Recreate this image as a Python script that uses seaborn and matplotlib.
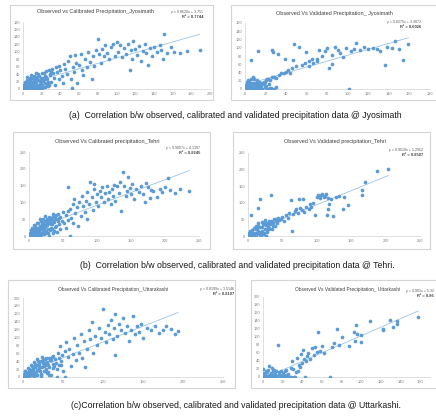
import matplotlib
matplotlib.use('Agg')
import matplotlib.pyplot as plt
import seaborn as sns
from matplotlib.patches import Rectangle

sns.set_style('white')
plt.rcParams['font.family'] = ['Liberation Sans', 'DejaVu Sans']

W, H = 436, 417
BLUE = '#5b9bd5'

# ---- (a) Jyosimath, calibration ----
obs_jyo_cal = [0, 0, 1, 1, 2, 2, 3, 3, 4, 4, 5, 5, 6, 6, 7, 7, 8, 8, 9, 9, 10, 10, 11, 11, 12, 12, 13, 14, 14, 15,
               15, 16, 17, 18, 18, 19, 20, 20, 21, 22, 23, 24, 25, 26, 27, 28, 29, 30,
               2, 5, 8, 11, 14, 17, 20, 23, 26, 29, 1, 4, 7, 10, 13, 16, 19, 22, 25, 28,
               3, 6, 9, 12, 15, 18, 21, 24, 27, 30, 0, 2, 4, 6, 8, 10, 12, 14, 16, 18,
               31, 32, 33, 34, 35, 36, 38, 39, 40, 42, 43, 44, 45, 47, 48, 50, 51, 52, 53, 55, 56, 57, 58, 60,
               62, 63, 64, 66, 68, 70, 72, 74, 75, 76, 78, 80, 81, 83, 85, 87, 88, 90, 92, 94, 96, 98, 100,
               102, 104, 106, 108, 110, 112, 114, 115, 117, 118, 120, 122, 124, 126, 128, 130, 132, 134, 136,
               138, 140, 143, 146, 148, 150, 151, 154, 158, 162, 168, 175, 189]
sim_jyo_cal = [0, 3, 1, 6, 2, 10, 0, 5, 2, 14, 1, 8, 3, 19, 0, 11, 5, 24, 2, 15, 6, 30, 1, 20, 9, 36, 3, 18, 42, 11,
               4, 25, 7, 14, 2, 30, 10, 44, 22, 5, 34, 16, 48, 27, 8, 52, 38, 20,
               20, 4, 30, 13, 6, 35, 2, 28, 12, 40, 12, 25, 17, 3, 29, 7, 20, 44, 33, 10,
               15, 9, 38, 24, 32, 1, 30, 6, 20, 45, 8, 16, 33, 12, 0, 20, 16, 26, 40, 22,
               55, 42, 30, 12, 58, 45, 26, 62, 50, 35, 16, 68, 55, 40, 75, 88, 28, 3, 60, 45, 92, 70, 15, 65,
               95, 50, 38, 80, 58, 100, 72, 28, 88, 62, 105, 133, 95, 70, 108, 88, 118, 98, 80, 112, 122, 90, 125,
               100, 118, 85, 110, 95, 122, 50, 105, 80, 128, 108, 92, 115, 75, 102, 120, 96, 65, 110,
               88, 112, 100, 118, 104, 80, 147, 96, 112, 100, 98, 102, 106]

# ---- (a) Jyosimath, validation ----
obs_jyo_val = [0, 0, 1, 1, 2, 2, 3, 3, 4, 4, 5, 5, 6, 6, 7, 7, 8, 8, 9, 9, 10, 11, 12, 12, 14, 16, 17, 19, 20, 21,
               23, 24, 26, 28, 30,
               1, 2, 3, 4, 5, 6, 7, 8, 9, 10, 11, 12, 13, 14, 15, 16, 17, 18, 19, 20, 22, 25, 28,
               15, 18, 20, 22, 24, 26, 28, 30, 33, 35, 38, 40, 42, 44, 46, 50, 55, 58, 62, 66, 70, 75, 85,
               6, 13, 26, 27, 32, 39, 47, 48, 53, 59, 62, 65, 70, 72, 78, 80, 82, 85, 88, 90, 92, 95, 98,
               101, 103, 106, 108, 112, 116, 120, 125, 128, 131, 136, 138, 143, 146, 150, 154, 159]
sim_jyo_val = [0, 2, 0, 5, 1, 12, 0, 3, 8, 20, 0, 2, 10, 25, 1, 5, 15, 28, 0, 3, 12, 2, 8, 22, 5, 0, 14, 18, 8, 25,
               12, 2, 0, 28, 5,
               10, 18, 22, 6, 15, 0, 12, 3, 24, 6, 15, 0, 10, 18, 2, 8, 0, 12, 5, 2, 0, 3, 0,
               15, 18, 22, 25, 22, 28, 30, 26, 35, 38, 40, 42, 45, 38, 50, 55, 58, 62, 68, 64, 72, 80, 82,
               70, 93, 94, 90, 85, 72, 70, 108, 102, 89, 55, 72, 68, 95, 92, 100, 52, 60, 102, 95, 88, 78, 100,
               0, 92, 98, 112, 95, 103, 98, 100, 96, 92, 58, 102, 100, 117, 96, 70, 108]

# ---- (b) Tehri, calibration ----
obs_teh_cal = [0, 1, 2, 3, 4, 5, 6, 7, 8, 9, 10, 11, 12, 13, 14, 15, 16, 17, 18, 19, 20, 21, 22, 23, 24, 25, 26, 27,
               28, 29, 30, 31, 32, 33, 34, 35, 36, 37, 38, 40, 42, 44, 45, 46, 48, 50, 52, 54, 55, 57, 58, 58,
               60, 60, 62, 64,
               1, 3, 5, 7, 9, 11, 13, 15, 17, 19, 21, 23, 25, 27, 29, 31, 33, 35, 37, 39,
               2, 4, 6, 8, 10, 12, 14, 16, 18, 20, 22, 24, 26, 28, 30, 32, 34, 36, 38, 40, 41, 43, 44,
               65, 66, 68, 70, 72, 74, 76, 78, 80, 82, 84, 85, 86, 88, 90, 92, 94, 95, 96, 98, 100, 102, 104,
               106, 108, 110, 112, 114, 116, 118, 120, 122, 124, 125, 127, 130, 132, 134, 136, 138, 140, 142,
               144, 145, 148, 150, 152, 155, 158, 162, 165, 168, 170, 172, 175, 178, 180, 183, 188, 192, 196,
               200, 204, 208, 215, 222, 236]
sim_teh_cal = [0, 2, 5, 1, 8, 3, 12, 2, 15, 6, 20, 4, 10, 25, 2, 18, 30, 8, 22, 35, 12, 40, 5, 28, 45, 15, 33, 52,
               20, 38, 0, 48, 25, 55, 35, 10, 60, 42, 28, 50, 65, 35, 20, 58, 45, 70, 38, 62, 25, 75, 48, 146,
               0, 80, 55, 95,
               10, 18, 0, 22, 30, 14, 40, 6, 45, 28, 50, 34, 8, 42, 58, 18, 36, 48, 15, 62,
               4, 25, 6, 34, 12, 38, 16, 50, 4, 28, 18, 60, 40, 10, 52, 38, 22, 65, 55, 30, 12, 45, 55,
               40, 110, 68, 85, 30, 100, 60, 120, 90, 72, 105, 130, 50, 95, 160, 115, 78, 155, 140, 100, 125, 88, 135,
               115, 145, 100, 128, 150, 110, 132, 95, 140, 118, 152, 105, 148, 128, 160, 75, 189, 150, 120,
               135, 175, 142, 125, 155, 110, 140, 130, 148, 125, 100, 158, 145, 112, 138, 135, 115, 140, 132,
               145, 173, 138, 128, 140, 133]

# ---- (b) Tehri, validation ----
obs_teh_val = [0, 1, 2, 3, 4, 4, 5, 6, 7, 8, 9, 10, 11, 12, 13, 14, 15, 16, 17, 18, 19, 20, 21, 22, 23, 24, 25, 26,
               27, 28, 29, 30, 32, 34, 35, 36, 38, 40, 41, 42, 44, 45,
               1, 3, 5, 7, 9, 11, 13, 15, 17, 19, 21, 23, 25, 27, 29, 31, 33, 35, 37, 39, 2, 6, 10, 14, 18, 22, 26, 30,
               48, 50, 52, 55, 58, 60, 62, 64, 65, 68, 70, 72, 74, 75, 78, 80, 82, 85, 88, 90, 92, 95, 98, 100,
               102, 104, 106, 108, 110, 112, 114, 115, 116, 117, 118, 120, 124, 128, 132, 138, 140, 145, 165,
               166, 170, 187, 204]
sim_teh_val = [0, 3, 8, 1, 12, 63, 2, 18, 5, 25, 0, 10, 30, 4, 20, 38, 84, 8, 112, 28, 2, 42, 15, 35, 5, 48, 22, 32,
               12, 40, 28, 45, 35, 124, 42, 30, 50, 45, 52, 38, 55, 48,
               6, 15, 0, 10, 4, 22, 8, 30, 2, 12, 28, 8, 40, 18, 35, 25, 45, 20, 38, 30, 0, 4, 2, 14, 6, 10, 0, 22,
               50, 58, 45, 62, 55, 70, 108, 15, 65, 75, 80, 68, 110, 85, 78, 112, 72, 88, 80, 95, 88, 100, 62, 118,
               122, 114, 125, 128, 118, 120, 126, 62, 80, 115, 95, 110, 61, 118, 120, 80, 118, 92, 139,
               124, 164, 195, 201]

# ---- (c) Uttarkashi, calibration ----
obs_utt_cal = [0, 1, 2, 3, 4, 5, 6, 7, 8, 9, 10, 11, 12, 13, 14, 15, 16, 17, 18, 19, 20, 21, 22, 23, 24, 25, 26, 27,
               28, 29, 30, 31, 32, 33, 34, 35, 36, 37, 38, 40, 42, 44, 45, 46, 48, 50, 52, 53, 54, 56, 58, 60,
               62, 64, 66, 68, 70, 72, 74,
               1, 3, 5, 7, 9, 11, 13, 15, 17, 19, 21, 23, 25, 27, 29, 31, 33, 35, 37, 39,
               2, 4, 6, 8, 10, 12, 14, 16, 18, 20, 22, 24, 26, 28, 30, 41, 43, 45, 47, 49,
               76, 78, 80, 82, 84, 86, 88, 90, 92, 95, 98, 100, 102, 104, 106, 108, 110, 112, 114, 115, 115,
               118, 120, 122, 125, 128, 130, 132, 135, 138, 140, 142, 145, 148, 150, 155, 160, 165, 170, 175,
               179, 185, 190, 194]
sim_utt_cal = [0, 3, 1, 6, 2, 10, 4, 14, 1, 8, 18, 5, 22, 10, 2, 26, 12, 30, 6, 18, 34, 14, 40, 8, 25, 44, 16, 30,
               46, 20, 38, 12, 48, 26, 42, 5, 50, 32, 22, 45, 0, 62, 30, 78, 40, 15, 65, 0, 88, 50, 70, 28,
               58, 100, 42, 80, 62, 110, 48,
               8, 15, 3, 20, 12, 28, 5, 34, 18, 40, 25, 2, 36, 14, 48, 30, 6, 44, 52, 28,
               14, 0, 22, 10, 30, 18, 38, 4, 45, 22, 8, 50, 28, 35, 10, 35, 20, 48, 30, 55,
               90, 25, 70, 118, 95, 139, 60, 105, 82, 125, 100, 172, 115, 88, 132, 110, 145, 95, 125, 55, 159,
               105, 135, 118, 150, 112, 130, 92, 120, 155, 108, 128, 115, 135, 100, 125, 118, 130, 112, 120,
               128, 122, 110, 117]

# ---- (c) Uttarkashi, validation ----
obs_utt_val = [0, 0, 1, 2, 3, 4, 5, 6, 7, 8, 9, 10, 11, 12, 13, 14, 15, 16, 17, 18, 19, 20, 21, 22, 23, 24, 25, 26,
               28, 30, 31, 32, 34,
               2, 4, 6, 8, 10, 12, 14, 16, 18, 20, 22, 24, 27, 29, 33, 36, 1, 3, 5, 7, 9, 11,
               35, 37, 38, 39, 40, 41, 42, 43, 44, 45, 46, 48, 50, 52, 53, 55, 56, 58, 60, 62, 68, 70, 72, 75,
               77, 80, 88, 93, 94, 95, 96, 100, 100, 109, 122, 122, 129, 132, 136, 136, 158]
sim_utt_val = [0, 21, 3, 8, 0, 12, 2, 28, 5, 10, 0, 14, 4, 8, 16, 2, 79, 12, 6, 15, 0, 10, 4, 14, 18, 0, 8, 0,
               22, 40, 20, 0, 12,
               0, 2, 0, 5, 0, 3, 0, 6, 0, 2, 0, 4, 0, 1, 0, 15, 10, 14, 18, 6, 22, 18,
               48, 30, 26, 58, 35, 68, 45, 0, 40, 52, 60, 44, 72, 55, 76, 62, 112, 65, 78, 60, 0, 76, 84, 121,
               80, 100, 78, 112, 90, 129, 108, 87, 106, 139, 121, 117, 143, 125, 140, 132, 150]

titles = ['Observed vs Calibrated Precipitation_Jyosimath',
          'Observed Vs Validated Precipitation_ Jyosimath',
          'Observed Vs Calibrated precipitation_Tehri',
          'Observed Vs Validated precipitation_Tehri',
          'Observed Vs Calibrated Precipitation_ Uttarakashi',
          'Observed Vs Validated Precipitation_ Uttarkashi']
equations = ['y = 0.8620x + 3.751', 'y = 0.8275x + 3.3872', 'y = 0.9057x + 4.1397',
             'y = 0.9519x + 1.2952', 'y = 0.8199x + 3.5146', 'y = 0.901x + 5.32']
r2_labels = ['R² = 0.7744', 'R² = 0.6026', 'R² = 0.8245', 'R² = 0.8507', 'R² = 0.8107', 'R² = 0.86']
captions = ['(a)  Correlation b/w observed, calibrated and validated precipitation data @ Jyosimath',
            '(b)  Correlation b/w observed, calibrated and validated precipitation data @ Tehri.',
            '(c)Correlation b/w observed, calibrated and validated precipitation data @ Uttarkashi.']

fig = plt.figure(figsize=(W / 100, H / 100), dpi=100)


def px_axes(x0, y0, x1, y1):
    return fig.add_axes([x0 / W, 1 - y1 / H, (x1 - x0) / W, (y1 - y0) / H])


def box(x0, y0, x1, y1):
    fig.patches.append(Rectangle((x0 / W, 1 - y1 / H), (x1 - x0) / W, (y1 - y0) / H,
                                 transform=fig.transFigure, fill=False, edgecolor='#d4d4d4', lw=0.8))


def ftext(x, y, s, **kw):
    fig.text(x / W, 1 - y / H, s, va='center', **kw)


def draw_panel(obs, sim, i, outer, inner, xlim, ylim, xstep, ystep, title_xy, eq_xy, tsize=4):
    box(*outer)
    ax = px_axes(*inner)
    sns.scatterplot(x=obs, y=sim, ax=ax, color=BLUE, s=7, linewidth=0, zorder=3)
    sns.regplot(x=obs, y=sim, ax=ax, scatter=False, ci=None,
                line_kws=dict(color='#9dc3e6', lw=0.6), truncate=True)
    ax.set_xlim(0, xlim)
    ax.set_ylim(0, ylim)
    ax.set_xticks(range(0, xlim + 1, xstep))
    ax.set_yticks(range(0, ylim + 1, ystep))
    ax.set_xlabel('')
    ax.set_ylabel('')
    ax.set_facecolor('none')
    for sp in ['top', 'right']:
        ax.spines[sp].set_visible(False)
    for sp in ['left', 'bottom']:
        ax.spines[sp].set_color('#d9d9d9')
        ax.spines[sp].set_linewidth(0.6)
    ax.tick_params(labelsize=2.8, colors='#7f7f7f', length=0, pad=2)
    ftext(title_xy[0], title_xy[1], titles[i], ha='center', fontsize=tsize, color='#404040')
    ftext(eq_xy[0], eq_xy[1], equations[i], ha='right', fontsize=2.6, color='#595959')
    ftext(eq_xy[0], eq_xy[1] + 5, r2_labels[i], ha='right', fontsize=2.9, color='#404040', fontweight='bold')


draw_panel(obs_jyo_cal, sim_jyo_cal, 0, (10, 5, 213, 100), (23, 22, 210, 89), 200, 180, 20, 20, (95, 12), (203, 12))
draw_panel(obs_jyo_val, sim_jyo_val, 1, (231, 5, 437, 100), (245, 23, 430, 89), 180, 160, 20, 20, (334, 14), (421, 22))
draw_panel(obs_teh_cal, sim_teh_cal, 2, (13, 132, 210, 249), (29, 152, 199, 236), 250, 250, 50, 50, (107, 142), (200, 148))
draw_panel(obs_teh_val, sim_teh_val, 3, (233, 132, 430, 249), (248, 153, 420, 236), 250, 250, 50, 50, (335, 142), (423, 150))
draw_panel(obs_utt_cal, sim_utt_cal, 4, (8, 280, 235, 388), (23, 298, 223, 377), 250, 200, 50, 20, (113, 289), (234, 289),
           tsize=3.5)
draw_panel(obs_utt_val, sim_utt_val, 5, (251, 280, 437, 388), (263, 297, 430, 377), 170, 200, 20, 20, (348, 289), (434, 291),
           tsize=3.5)

ftext(235, 115, captions[0], ha='center', fontsize=6.3, color='#1a1a1a')
ftext(237, 265, captions[1], ha='center', fontsize=6.3, color='#1a1a1a')
ftext(236, 406, captions[2], ha='center', fontsize=6.3, color='#1a1a1a')

fig.savefig('out.png', dpi=100)
